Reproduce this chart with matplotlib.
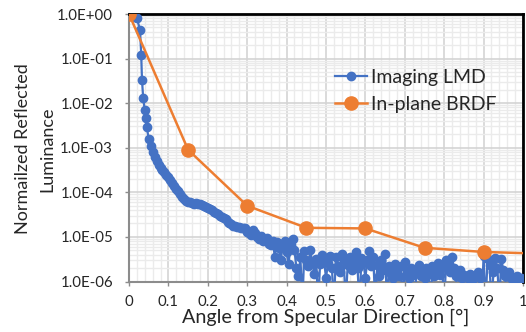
import matplotlib
matplotlib.use("Agg")
import matplotlib.pyplot as plt
from matplotlib.ticker import FixedLocator, LogLocator, NullFormatter, FuncFormatter
import numpy as np

# ---- data ----
lmd_x_head = [0.003, 0.015, 0.020, 0.028, 0.031, 0.033, 0.036, 0.040, 0.042]
lmd_y_head = [1.0, 0.86, 0.80, 0.44, 0.12, 0.033, 0.013, 0.007, 0.0046]

lmd_x = [
    0.045, 0.050, 0.055, 0.060, 0.065, 0.070, 0.075, 0.080, 0.085, 0.090,
    0.095, 0.100, 0.105, 0.110, 0.115, 0.120, 0.125, 0.130, 0.135, 0.140,
    0.145, 0.150, 0.155, 0.160, 0.165, 0.170, 0.175, 0.180, 0.185, 0.190,
    0.195, 0.200, 0.205, 0.210, 0.215, 0.220, 0.225, 0.230, 0.235, 0.240,
    0.245, 0.250, 0.255, 0.260, 0.265, 0.270, 0.275, 0.280, 0.285, 0.290,
    0.295, 0.300, 0.305, 0.310, 0.315, 0.320, 0.325, 0.330, 0.335, 0.340,
    0.345, 0.350, 0.355, 0.360, 0.365, 0.370, 0.375, 0.380, 0.385, 0.390,
    0.395, 0.400, 0.405, 0.410, 0.415, 0.420, 0.425, 0.430, 0.435, 0.440,
    0.445, 0.450, 0.455, 0.460, 0.465, 0.470, 0.475, 0.480, 0.485, 0.490,
    0.495, 0.500, 0.505, 0.510, 0.515, 0.520, 0.525, 0.530, 0.535, 0.540,
    0.545, 0.550, 0.555, 0.560, 0.565, 0.570, 0.575, 0.580, 0.585, 0.590,
    0.595, 0.600, 0.605, 0.610, 0.615, 0.620, 0.625, 0.630, 0.635, 0.640,
    0.645, 0.650, 0.655, 0.660, 0.665, 0.670, 0.675, 0.680, 0.685, 0.690,
    0.695, 0.700, 0.705, 0.710, 0.715, 0.720, 0.725, 0.730, 0.735, 0.740,
    0.745, 0.750, 0.755, 0.760, 0.765, 0.770, 0.775, 0.780, 0.785, 0.790,
    0.795, 0.800, 0.805, 0.810, 0.815, 0.820, 0.825, 0.830, 0.835, 0.840,
    0.845, 0.850, 0.855, 0.860, 0.865, 0.870, 0.875, 0.880, 0.885, 0.890,
    0.895, 0.900, 0.905, 0.910, 0.915, 0.920, 0.925, 0.930, 0.935, 0.940,
    0.945, 0.950, 0.955, 0.960, 0.965, 0.970, 0.975, 0.980, 0.985, 0.990,
    0.995, 1.000,
]
lmd_y = [
    2.9e-3, 1.6e-3, 1.1e-3, 8.0e-4, 6.2e-4, 5.0e-4, 4.2e-4, 3.6e-4, 3.1e-4, 2.8e-4,
    2.5e-4, 2.2e-4, 1.9e-4, 1.65e-4, 1.4e-4, 1.2e-4, 1.05e-4, 9.0e-5, 7.8e-5, 7.0e-5,
    6.5e-5, 6.2e-5, 6.0e-5, 5.8e-5, 5.6e-5, 5.7e-5, 5.5e-5, 5.5e-5, 5.3e-5, 5.0e-5,
    4.8e-5, 4.5e-5, 4.3e-5, 4.0e-5, 3.7e-5, 3.5e-5, 3.3e-5, 3.0e-5, 2.8e-5, 2.6e-5,
    2.5e-5, 2.2e-5, 2.0e-5, 1.9e-5, 1.8e-5, 1.75e-5, 1.7e-5, 1.65e-5, 1.6e-5, 1.55e-5,
    1.6e-5, 1.3e-5, 1.2e-5, 1.1e-5, 1.4e-5, 1.2e-5, 1.0e-5, 9.0e-6, 1.05e-5, 8.0e-6,
    8.5e-6, 9.5e-6, 7.0e-6, 6.5e-6, 8.0e-6, 3.6e-6, 7.5e-6, 5.5e-6, 3.0e-6, 6.0e-6,
    8.0e-6, 4.5e-6, 2.5e-6, 6.5e-6, 9.0e-6, 5.0e-6, 2.0e-6, 1.3e-6, 3.5e-6, 3.0e-7,
    4.8e-6, 3.0e-6, 2.2e-6, 5.0e-6, 2.8e-6, 1.5e-6, 3.2e-6, 3.0e-7, 2.5e-6, 4.0e-6,
    3.0e-6, 1.2e-6, 2.6e-6, 3.8e-6, 2.0e-6, 3.0e-7, 3.5e-6, 2.2e-6, 1.6e-6, 4.2e-6,
    3.0e-6, 3.0e-7, 2.4e-6, 3.6e-6, 1.8e-6, 2.8e-6, 4.5e-6, 2.0e-6, 3.0e-7, 3.4e-6,
    2.6e-6, 1.2e-6, 3.0e-6, 4.8e-6, 2.2e-6, 3.6e-6, 3.0e-7, 2.4e-6, 1.3e-6, 3.0e-6,
    1.8e-6, 4.2e-6, 3.0e-7, 2.2e-6, 1.5e-6, 1.2e-6, 2.5e-6, 1.8e-6, 1.3e-6, 2.2e-6,
    3.0e-7, 2.8e-6, 1.6e-6, 1.2e-6, 2.0e-6, 1.4e-6, 3.0e-7, 1.8e-6, 2.4e-6, 1.3e-6,
    1.6e-6, 1.2e-6, 2.0e-6, 1.5e-6, 3.0e-7, 2.2e-6, 1.3e-6, 1.8e-6, 2.6e-6, 1.4e-6,
    2.0e-6, 3.0e-7, 3.0e-6, 2.2e-6, 1.6e-6, 3.5e-6, 2.0e-6, 1.3e-6, 3.0e-7, 1.8e-6,
    1.2e-6, 1.4e-6, 3.0e-7, 1.2e-6, 1.5e-6, 1.1e-6, 3.0e-7, 1.3e-6, 1.6e-6, 1.2e-6,
    3.0e-7, 3.8e-6, 3.0e-7, 3.2e-6, 2.4e-6, 3.0e-7, 1.6e-6, 3.4e-6, 2.0e-6, 3.0e-7,
    3.2e-6, 1.8e-6, 1.3e-6, 3.0e-7, 1.6e-6, 1.2e-6, 3.0e-7, 1.1e-6, 1.3e-6, 1.1e-6,
    1.2e-6, 1.1e-6,
]

brdf_x = [0.0, 0.15, 0.30, 0.45, 0.60, 0.75, 0.90, 1.05]
brdf_y = [1.0, 9.0e-4, 5.0e-5, 1.6e-5, 1.55e-5, 5.7e-6, 4.6e-6, 4.2e-6]

x_ticks = [0, 0.1, 0.2, 0.3, 0.4, 0.5, 0.6, 0.7, 0.8, 0.9, 1.0]
x_tick_labels = ["0", "0.1", "0.2", "0.3", "0.4", "0.5", "0.6", "0.7", "0.8", "0.9", "1"]

series_names = ["Imaging LMD", "In-plane BRDF"]
x_title = "Angle from Specular Direction [°]"
y_title = "Normailzed Reflected\nLuminance"

BLUE = "#4472C4"
ORANGE = "#ED7D31"
TXT = "#262626"

plt.rcParams['font.family'] = ['Lato', 'DejaVu Sans']

W, H = 526, 332
fig = plt.figure(figsize=(W/100, H/100), dpi=100)
L, R, T, B = 129, 523, 14, 281.5
ax = fig.add_axes([L/W, 1 - B/H, (R-L)/W, (B-T)/H])

ax.set_yscale('log')
ax.set_xlim(0, 1)
ax.set_ylim(1e-6, 1.0)

xs = lmd_x_head + lmd_x
ys = lmd_y_head + lmd_y
ax.plot(xs, ys, color=BLUE, lw=1.6, marker='o', ms=6, mec=BLUE, mfc=BLUE,
        label=series_names[0], zorder=3)
ax.plot(brdf_x, brdf_y, color=ORANGE, lw=1.8, marker='o', ms=9.5, mec=ORANGE, mfc=ORANGE,
        label=series_names[1], zorder=4)

# grid / ticks
ax.xaxis.set_major_locator(FixedLocator(x_ticks))
ax.set_xticklabels(x_tick_labels)
ax.xaxis.set_minor_locator(FixedLocator([i*0.02 for i in range(51)]))
ax.yaxis.set_major_locator(LogLocator(base=10, numticks=10))
ax.yaxis.set_minor_locator(LogLocator(base=10, subs=np.arange(2, 10), numticks=20))
ax.yaxis.set_minor_formatter(NullFormatter())
ax.yaxis.set_major_formatter(FuncFormatter(lambda v, p: "%.1E" % v))
ax.grid(which='major', color='#D4D4D4', lw=1.2, zorder=0)
ax.grid(which='minor', color='#EBEBEB', lw=1.0, zorder=0)
ax.set_axisbelow(True)

for s in ['top', 'right']:
    ax.spines[s].set_color('black')
    ax.spines[s].set_linewidth(2)
for s in ['left', 'bottom']:
    ax.spines[s].set_color('#8C8C8C')
    ax.spines[s].set_linewidth(1.5)

ax.tick_params(which='major', axis='y', direction='out', length=3, width=1, color='#8C8C8C',
               labelsize=10.8, labelcolor=TXT, pad=8.5)
ax.tick_params(which='major', axis='x', direction='out', length=3, width=1, color='#8C8C8C',
               labelsize=10.8, labelcolor=TXT, pad=7)
ax.tick_params(which='minor', length=0)

fig.text((L+R)/2/W, 1 - 317/H, x_title, fontsize=14.2, color=TXT, ha='center', va='center')
fig.text(35/W, 1 - 149/H, y_title, fontsize=13, color=TXT, ha='center', va='center',
         rotation=90, multialignment='center', linespacing=1.6)

leg = ax.legend(loc='center left', bbox_to_anchor=((335-L)/(R-L), (B-91)/(B-T)), frameon=False,
                fontsize=14, handlelength=1.65, handletextpad=0.2, labelspacing=0.5,
                borderpad=0, borderaxespad=0)
for t in leg.get_texts():
    t.set_color(TXT)

fig.savefig("out.png", dpi=100)
